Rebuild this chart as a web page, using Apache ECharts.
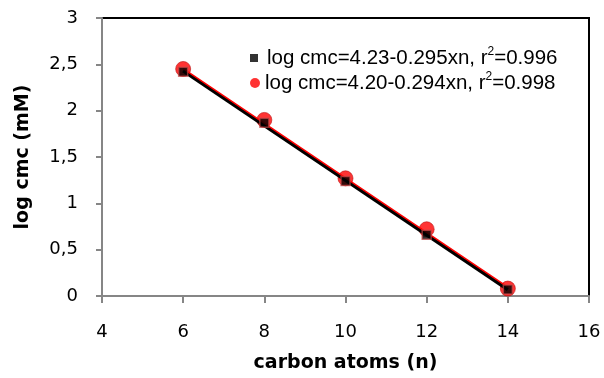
<!DOCTYPE html>
<html>
<head>
<meta charset="utf-8">
<script src="https://cdn.jsdelivr.net/npm/echarts@6/dist/echarts.min.js"></script>
<style>
  html, body { margin: 0; padding: 0; background: #fff; }
  #chart { width: 604px; height: 378px; }
</style>
</head>
<body>
<div id="chart"></div>
<script>
// carbon atoms n, measured log cmc values
const carbonAtoms = [6, 8, 10, 12, 14];
const blackValues = [2.42, 1.87, 1.24, 0.66, 0.07];
const redValues = [2.45, 1.90, 1.27, 0.72, 0.08];

// trend line end points
const blackFit = [[6, 2.43], [14, 0.07]];
const redFit = [[6, 2.455], [14, 0.095]];

const blackLabel = "log cmc=4.23-0.295xn, r2=0.996";
const redLabel = "log cmc=4.20-0.294xn, r2=0.998";

const xTicks = { min: 4, max: 16, step: 2 };
const yTicks = { min: 0, max: 3, step: 0.5 };

const tickFont = "DejaVu Sans";
const legendFont = "Liberation Sans";

function legendText(name) {
  // split "r2" so the 2 can be superscript
  const parts = name.split(", r2");
  return "{t|" + parts[0] + ", r}{s|2}{t|" + parts[1] + "}";
}

const legendRich = (padLeft) => ({
  t: { fontFamily: legendFont, fontSize: 20.5, color: "#000", lineHeight: 24 },
  s: { fontFamily: legendFont, fontSize: 12, color: "#000", verticalAlign: "top", lineHeight: 24 },
  p: { width: padLeft },
});

const chart = echarts.init(document.getElementById("chart"), null, { renderer: "canvas" });

const pair = (xs, ys) => xs.map((x, i) => [x, ys[i]]);

chart.setOption({
  animation: false,
  grid: {
    left: 102,
    right: 15,
    top: 18,
    bottom: 82,
    outerBoundsMode: "none",
    show: true,
    borderColor: "#000",
    borderWidth: 2,
    backgroundColor: "transparent",
  },
  legend: [
    {
      data: [{ name: blackLabel, icon: "rect", itemStyle: { color: "#000", borderWidth: 0 } }],
      left: 245,
      top: 41,
      itemWidth: 8,
      itemHeight: 8,
      formatter: (name) => "{p|}" + legendText(name),
      textStyle: { rich: legendRich(4) },
    },
    {
      data: [{ name: redLabel, icon: "circle", itemStyle: { color: "#ff0000", borderWidth: 0 } }],
      left: 245,
      top: 66,
      itemWidth: 10,
      itemHeight: 10,
      formatter: (name) => legendText(name),
      textStyle: { rich: legendRich(0) },
    },
  ],
  xAxis: {
    type: "value",
    min: xTicks.min,
    max: xTicks.max,
    interval: xTicks.step,
    name: "carbon atoms (n)",
    nameLocation: "middle",
    nameGap: 58,
    nameTextStyle: { fontFamily: tickFont, fontWeight: "bold", fontSize: 19, color: "#000" },
    axisLine: { lineStyle: { color: "#868686", width: 2 } },
    axisTick: { show: true, length: 7, lineStyle: { color: "#868686", width: 2 } },
    axisLabel: { margin: 27, fontFamily: tickFont, fontSize: 18, color: "#000" },
    splitLine: { show: false },
  },
  yAxis: {
    type: "value",
    min: yTicks.min,
    max: yTicks.max,
    interval: yTicks.step,
    name: "log cmc (mM)",
    nameLocation: "middle",
    nameGap: 69,
    nameTextStyle: { fontFamily: tickFont, fontWeight: "bold", fontSize: 19, color: "#000" },
    axisLine: { show: true, lineStyle: { color: "#868686", width: 2 } },
    axisTick: { show: true, length: 6, lineStyle: { color: "#868686", width: 2 } },
    axisLabel: {
      margin: 24,
      fontFamily: tickFont,
      fontSize: 18,
      color: "#000",
      formatter: (v) => String(v).replace(".", ","),
    },
    splitLine: { show: false },
  },
  series: [
    {
      name: redLabel,
      type: "scatter",
      symbol: "circle",
      symbolSize: 15,
      itemStyle: { color: "#ff0000", borderColor: "rgba(190,20,20,0.8)", borderWidth: 1 },
      data: pair(carbonAtoms, redValues),
      z: 2,
    },
    {
      name: "blackFit",
      type: "line",
      data: blackFit,
      showSymbol: false,
      lineStyle: { color: "#000", width: 3.5 },
      z: 3,
      silent: true,
    },
    {
      name: "redFit",
      type: "line",
      data: redFit,
      showSymbol: false,
      lineStyle: { color: "#ff0000", width: 1.5 },
      z: 4,
      silent: true,
    },
    {
      name: blackLabel,
      type: "scatter",
      symbol: "rect",
      symbolSize: 9,
      itemStyle: { color: "#000", borderColor: "rgba(200,70,70,0.85)", borderWidth: 1.5 },
      data: pair(carbonAtoms, blackValues),
      z: 5,
    },
  ],
});
</script>
</body>
</html>
